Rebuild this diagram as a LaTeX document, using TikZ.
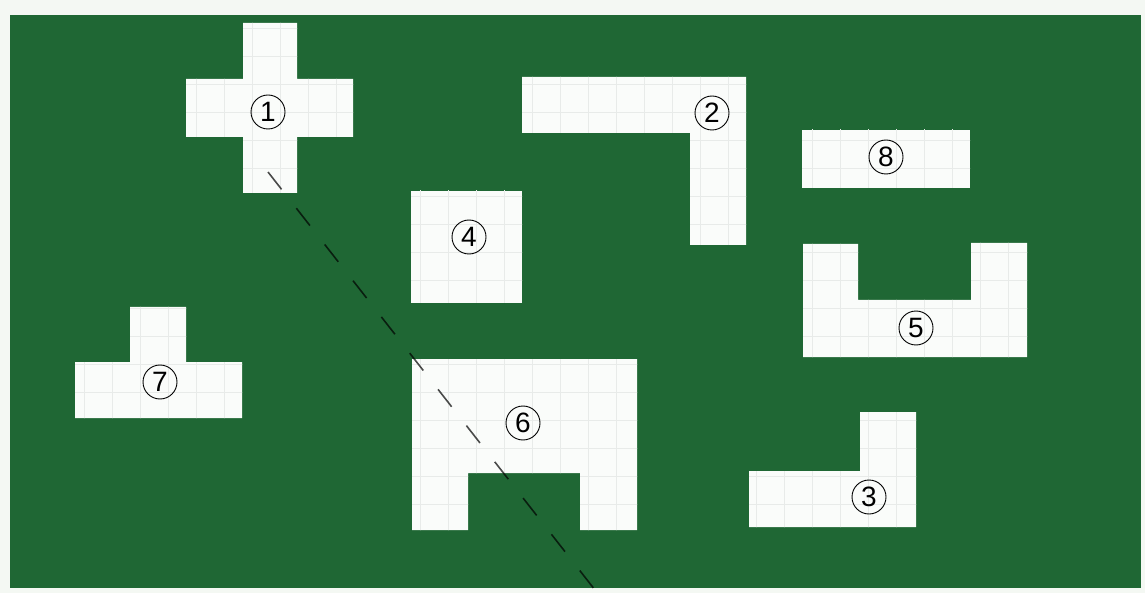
\documentclass[tikz,border=0pt]{standalone}
\usepackage{fontspec}
\setsansfont{Liberation Sans}
\definecolor{board}{RGB}{31,103,52}
\definecolor{paper}{RGB}{244,248,243}
\definecolor{piece}{RGB}{250,252,250}
\definecolor{gridl}{RGB}{232,235,233}
\tikzset{
  piecefill/.style={fill=piece},
  numlabel/.style={circle,draw=black,line width=0.9pt,minimum size=34pt,inner sep=0pt,font=\sffamily\fontsize{28}{28}\selectfont},
  cutline/.style={draw=black,line width=1.6pt,dash pattern=on 22pt off 24pt,opacity=0.7},
}
\begin{document}
\begin{tikzpicture}[x=1pt,y=-1pt]
\useasboundingbox (0,0) rectangle (1145,593);
\fill[paper] (0,0) rectangle (1145,593);
\fill[board] (10,15) rectangle (1141,588);

% pieces
\def\pone{(243,23) -- (297,23) -- (297,79) -- (353,79) -- (353,137) -- (297,137) -- (297,193) -- (243,193) -- (243,137) -- (186,137) -- (186,79) -- (243,79) -- cycle}
\def\ptwo{(522,77) -- (746,77) -- (746,245) -- (690,245) -- (690,133) -- (522,133) -- cycle}
\def\pthree{(860,412) -- (916,412) -- (916,527) -- (749,527) -- (749,471) -- (860,471) -- cycle}
\def\pfour{(411,191) rectangle (522,303)}
\def\pfive{(803,244) -- (858,244) -- (858,300) -- (971,300) -- (971,243) -- (1027,243) -- (1027,357) -- (803,357) -- cycle}
\def\psix{(412,359) -- (637,359) -- (637,530) -- (580,530) -- (580,473) -- (468,473) -- (468,530) -- (412,530) -- cycle}
\def\pseven{(130,307) -- (186,307) -- (186,362) -- (242,362) -- (242,418) -- (75,418) -- (75,362) -- (130,362) -- cycle}
\def\peight{(802,130) rectangle (970,188)}

\foreach \p in {\pone,\ptwo,\pthree,\pfour,\pfive,\psix,\pseven,\peight}{
  \fill[piecefill] \p;
  \begin{scope}
    \clip \p;
    \draw[gridl,line width=0.5pt,step=28pt] (0,0) grid (1145,593);
  \end{scope}
}

% labels
\node[numlabel] (n1) at (268,112) {1};
\node[numlabel] (n2) at (712,113) {2};
\node[numlabel] (n3) at (869,497) {3};
\node[numlabel] (n4) at (469,237) {4};
\node[numlabel] (n5) at (916,328) {5};
\node[numlabel] (n6) at (523,423) {6};
\node[numlabel] (n7) at (160,382) {7};
\node[numlabel] (n8) at (886,157) {8};

% cut line
\coordinate (cutA) at (268,172);
\coordinate (cutB) at (595,590);
\draw[cutline] (cutA) -- (cutB);
\end{tikzpicture}
\end{document}
